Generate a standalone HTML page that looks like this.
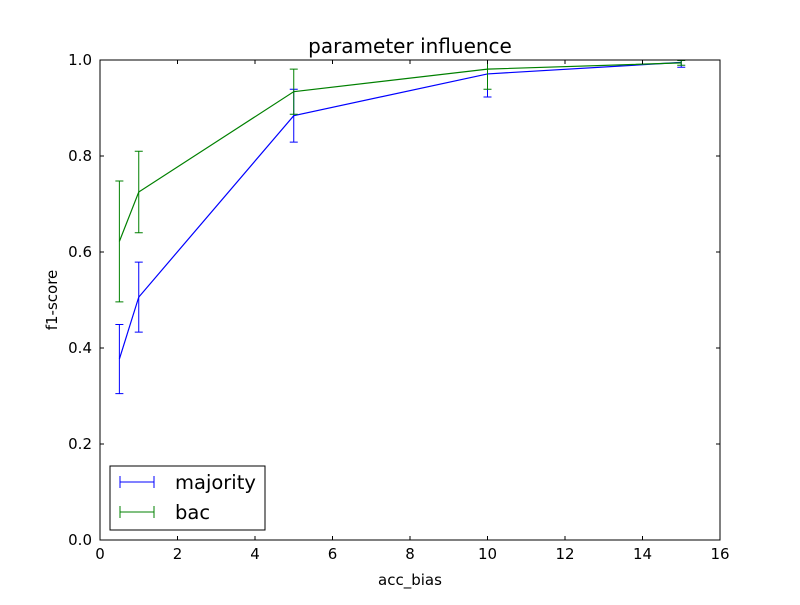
<!DOCTYPE html>
<html><head><meta charset="utf-8"><style>
body{margin:0;background:#fff;}
svg text{font-family:"DejaVu Sans","Liberation Sans",sans-serif;}
</style></head><body>
<svg id="chart" width="800" height="600" xmlns="http://www.w3.org/2000/svg">
<defs><clipPath id="clip"><rect x="100" y="60" width="620" height="480"/></clipPath></defs>
<rect width="800" height="600" fill="#fff"/>
<g id="plot"></g>
</svg>
<script>
const xValues=[0.5,1,5,10,15];
const majorityY=[0.377,0.506,0.884,0.971,0.995];
const majorityErr=[0.072,0.073,0.055,0.048,0.01];
const bacY=[0.622,0.725,0.934,0.981,0.994];
const bacErr=[0.126,0.085,0.047,0.042,0.005];
const xTicks=[0,2,4,6,8,10,12,14,16];
const yTicks=[0.0,0.2,0.4,0.6,0.8,1.0];
const L=100,R=720,T=60,B=540;
const sx=v=>L+(v/16)*(R-L);
const sy=v=>B-v*(B-T);
const NS="http://www.w3.org/2000/svg";
const g=document.getElementById('plot');
function mk(t,a,p){const e=document.createElementNS(NS,t);for(const k in a)e.setAttribute(k,a[k]);(p||g).appendChild(e);return e;}
function series(ys,errs,color,name){
  const grp=mk('g',{'clip-path':'url(#clip)'});
  
  
  const pts=xValues.map((x,i)=>sx(x)+','+sy(ys[i])).join(' ');
  const pl=mk('polyline',{points:pts,fill:'none',stroke:color,'stroke-width':1.2},grp);
  
  
  xValues.forEach((x,i)=>{
    const X=sx(x),y1=sy(ys[i]+errs[i]),y2=sy(ys[i]-errs[i]);
    const eb=mk('path',{d:`M${X},${y1}V${y2}M${X-4},${y1}H${X+4}M${X-4},${y2}H${X+4}`,stroke:color,'stroke-width':1,fill:'none'},grp);
    
    
  });
}
series(majorityY,majorityErr,'#0000ff','majority');
series(bacY,bacErr,'#008000','bac');
const fr=mk('rect',{x:L,y:T,width:R-L,height:B-T,fill:'none',stroke:'#000','stroke-width':1});


xTicks.forEach(v=>{
  const X=sx(v);
  mk('path',{d:`M${X},${B}v-4M${X},${T}v4`,stroke:'#000'});
  const t=mk('text',{x:X,y:B+19,'text-anchor':'middle','font-size':15});t.textContent=v;
  
  
});
yTicks.forEach(v=>{
  const Y=sy(v);
  mk('path',{d:`M${L},${Y}h4M${R},${Y}h-4`,stroke:'#000'});
  const t=mk('text',{x:L-8,y:Y+5,'text-anchor':'end','font-size':15});t.textContent=v.toFixed(1);
  
  
});
</script>
<svg width="800" height="600" style="position:absolute;left:0;top:0" xmlns="http://www.w3.org/2000/svg">
<text x="410" y="53" text-anchor="middle" font-size="20">parameter influence</text>
<text x="410" y="585" text-anchor="middle" font-size="15">acc_bias</text>
<text x="57" y="300" text-anchor="middle" font-size="15" transform="rotate(-90 57 300)">f1-score</text>
<g>
<rect x="110" y="466" width="155" height="64" fill="#fff" stroke="#000"/>
<g>
<path d="M120,482H154M120,476V488M154,476V488" stroke="#0000ff" fill="none"/>
<text x="175" y="489" font-size="19.5">majority</text></g>
<g>
<path d="M120,512H154M120,506V518M154,506V518" stroke="#008000" fill="none"/>
<text x="175" y="519" font-size="19.5">bac</text></g>
</g>
</svg>
</body></html>
